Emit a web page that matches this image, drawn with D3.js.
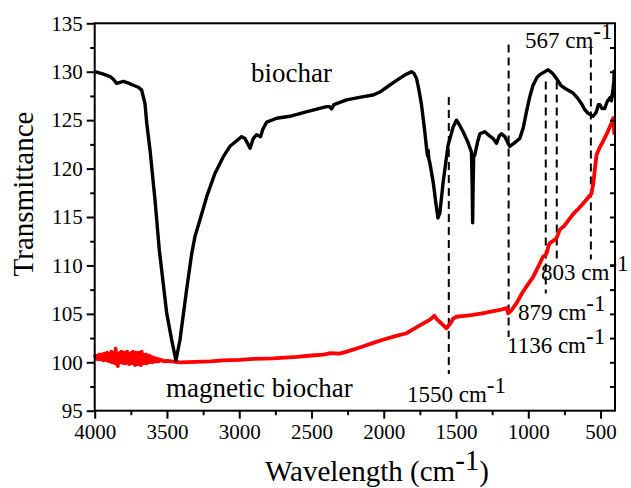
<!DOCTYPE html>
<html>
<head>
<meta charset="utf-8">
<script src="https://cdn.jsdelivr.net/npm/d3@7"></script>
<style>
  html, body { margin: 0; padding: 0; background: #fff; }
  svg { display: block; }
  text { font-family: "Liberation Serif", "Times New Roman", serif; fill: #000; }
</style>
</head>
<body>
<svg id="chart" width="631" height="488"></svg>
<script>
// ---- Data ----
const xTicks = [4000, 3500, 3000, 2500, 2000, 1500, 1000, 500];
const yTicks = [95, 100, 105, 110, 115, 120, 125, 130, 135];

// biochar (black) spectrum: wavenumber / transmittance
const biocharWn = [4000, 3950, 3893, 3870, 3848, 3825, 3802, 3770, 3733, 3698, 3675, 3652, 3640, 3617, 3583, 3553, 3502, 3470, 3438, 3410, 3364, 3329, 3306, 3272, 3225, 3168, 3111, 3064, 2983, 2960, 2925, 2903, 2880, 2852, 2838, 2810, 2741, 2649, 2550, 2450, 2396, 2375, 2361, 2345, 2257, 2150, 2073, 2027, 1970, 1911, 1850, 1808, 1790, 1773, 1755, 1739, 1716, 1704, 1697, 1693, 1688, 1680, 1658, 1640, 1625, 1612, 1589, 1555, 1520, 1497, 1480, 1451, 1420, 1393, 1388, 1385, 1382, 1378, 1370, 1350, 1335, 1301, 1270, 1243, 1220, 1200, 1185, 1162, 1140, 1128, 1100, 1059, 1035, 1012, 990, 967, 940, 920, 863, 830, 805, 775, 748, 690, 660, 632, 610, 586, 552, 530, 515, 505, 490, 471, 455, 436, 425, 413, 408, 405];
const biocharT  = [130.0, 129.8, 129.5, 129.2, 128.8, 128.9, 129.0, 128.85, 128.6, 128.4, 128.1, 126.7, 124.7, 121.9, 116.8, 111.6, 105.1, 102.5, 100.2, 102.3, 107.5, 111.2, 113.0, 114.7, 117.1, 119.5, 121.2, 122.3, 123.3, 123.1, 122.1, 123.1, 123.5, 123.3, 124.0, 124.8, 125.2, 125.4, 125.8, 126.2, 126.4, 126.4, 126.15, 126.6, 127.1, 127.4, 127.6, 127.9, 128.5, 129.1, 129.7, 130.0, 129.8, 129.3, 128.0, 126.6, 123.8, 122.1, 121.3, 121.9, 121.0, 120.5, 118.6, 116.5, 114.9, 115.4, 118.6, 122.4, 124.3, 125.0, 124.6, 123.8, 122.8, 121.7, 118.0, 114.4, 118.0, 121.2, 121.4, 122.8, 123.6, 123.8, 123.4, 123.1, 122.6, 123.4, 123.6, 123.3, 122.6, 122.3, 122.6, 123.1, 124.2, 125.9, 127.4, 128.6, 129.4, 129.7, 130.2, 129.8, 129.3, 128.6, 128.3, 127.8, 127.3, 126.7, 126.1, 125.7, 125.4, 125.8, 126.6, 126.6, 126.2, 126.2, 126.9, 127.3, 127.0, 128.3, 129.0, 130.2];

// magnetic biochar (red) spectrum
const magneticWn = [4000, 3995, 3990, 3985, 3980, 3975, 3970, 3965, 3960, 3955, 3950, 3945, 3940, 3935, 3930, 3925, 3920, 3915, 3910, 3905, 3900, 3895, 3890, 3885, 3880, 3875, 3870, 3865, 3860, 3855, 3850, 3845, 3840, 3835, 3830, 3825, 3820, 3815, 3810, 3805, 3800, 3795, 3790, 3785, 3780, 3775, 3770, 3765, 3760, 3755, 3750, 3745, 3740, 3735, 3730, 3725, 3720, 3715, 3710, 3705, 3700, 3695, 3690, 3685, 3680, 3675, 3670, 3665, 3660, 3655, 3650, 3645, 3640, 3635, 3630, 3625, 3620, 3615, 3610, 3605, 3600, 3595, 3590, 3585, 3580, 3575, 3570, 3565, 3560, 3555, 3550, 3540, 3520, 3500, 3410, 3300, 3200, 3111, 3000, 2900, 2765, 2600, 2500, 2419, 2380, 2372, 2303, 2234, 2150, 2073, 2000, 1920, 1842, 1750, 1680, 1650, 1630, 1600, 1566, 1540, 1520, 1497, 1440, 1382, 1300, 1250, 1197, 1150, 1139, 1120, 1081, 1040, 1000, 967, 930, 898, 880, 874, 860, 851, 830, 805, 782, 750, 720, 690, 650, 620, 597, 575, 563, 550, 528, 505, 483, 460, 436, 420, 413, 408, 405];
const magneticT  = [100.5, 100.7, 100.4, 100.6, 100.3, 100.7, 100.5, 100.8, 100.3, 100.6, 100.4, 100.8, 100.2, 100.9, 100.3, 100.7, 100.2, 101.0, 100.4, 100.8, 100.1, 100.9, 100.3, 101.1, 100.0, 100.8, 100.2, 101.0, 99.9, 101.4, 100.1, 100.9, 99.6, 100.8, 100.2, 101.0, 100.0, 101.1, 100.3, 100.9, 99.9, 101.0, 100.2, 100.8, 99.9, 101.1, 100.1, 100.9, 99.8, 100.7, 100.2, 101.0, 99.9, 101.1, 100.0, 100.9, 99.7, 101.0, 100.1, 100.8, 99.8, 101.0, 100.0, 100.9, 99.7, 101.1, 100.0, 100.8, 99.9, 100.7, 100.0, 100.8, 99.9, 100.6, 100.1, 100.7, 100.0, 100.6, 100.1, 100.5, 100.0, 100.5, 100.1, 100.4, 100.1, 100.4, 100.1, 100.35, 100.1, 100.3, 100.15, 100.25, 100.1, 100.15, 100.0, 100.05, 100.1, 100.2, 100.25, 100.35, 100.4, 100.55, 100.7, 100.8, 100.9, 100.95, 100.9, 101.2, 101.6, 102.0, 102.35, 102.7, 103.0, 103.8, 104.4, 104.8, 104.4, 104.0, 103.5, 104.0, 104.5, 104.7, 104.8, 104.9, 105.1, 105.25, 105.4, 105.6, 105.05, 105.3, 106.1, 107.2, 108.1, 108.8, 109.9, 110.9, 111.1, 111.2, 112.0, 112.3, 112.5, 112.8, 113.7, 114.1, 114.7, 115.3, 115.9, 116.4, 116.8, 117.2, 117.4, 118.5, 121.4, 122.2, 122.8, 123.5, 124.3, 124.8, 125.2, 124.5, 123.5];

// dashed marker lines: wavenumber, top and bottom transmittance
const markerWn     = [1550, 1136, 879, 803, 567];
const markerTop    = [127.4, 132.8, 129.0, 129.0, 132.6];
const markerBottom = [98.8, 102.6, 107.1, 110.7, 110.6];

// annotation labels
const annoText = ["567 cm", "803 cm", "879 cm", "1136 cm", "1550 cm"];
const seriesLabels = ["biochar", "magnetic biochar"];

// ---- Layout ----
const svg = d3.select("#chart");
const mLeft = 94.7, mRight = 615, mTop = 23.3, mBottom = 410.7;
const x = d3.scaleLinear().domain([4000, 400]).range([mLeft, mRight]);
const y = d3.scaleLinear().domain([95, 135]).range([mBottom, mTop]);
const FONT = "Liberation Serif, Times New Roman, serif";

// curves
const line = d3.line().x(d => x(d[0])).y(d => y(d[1]));
const bioData = biocharWn.map((w, i) => [w, biocharT[i]]);
const magData = magneticWn.map((w, i) => [w, magneticT[i]]);

// dashed lines
svg.append("g").selectAll("line").data(markerWn).join("line")
  .attr("x1", d => x(d)).attr("x2", d => x(d))
  .attr("y1", (d, i) => y(markerTop[i])).attr("y2", (d, i) => y(markerBottom[i]))
  .attr("stroke", "#000").attr("stroke-width", 2).attr("stroke-dasharray", "8,5");

svg.append("path").datum(magData).attr("d", line)
  .attr("fill", "none").attr("stroke", "#ff0000").attr("stroke-width", 3.8)
  .attr("stroke-linejoin", "round");
svg.append("path").datum(bioData).attr("d", line)
  .attr("fill", "none").attr("stroke", "#000").attr("stroke-width", 3.4)
  .attr("stroke-linejoin", "round");

// axes
const xAxis = d3.axisBottom(x).tickValues(xTicks).tickSize(8).tickPadding(5).tickFormat(d3.format("d"));
const xMinor = d3.axisBottom(x).tickValues([3750, 3250, 2750, 2250, 1750, 1250, 750]).tickSize(4.5).tickFormat("");
const yAxis = d3.axisLeft(y).tickValues(yTicks).tickSize(8).tickPadding(4).tickFormat(d3.format("d"));
const yMinor = d3.axisLeft(y).tickValues([97.5, 102.5, 107.5, 112.5, 117.5, 122.5, 127.5, 132.5]).tickSize(4.5).tickFormat("");
const yRight = d3.axisLeft(y).tickValues([97.5, 100, 102.5, 105, 107.5, 110, 112.5, 115, 117.5, 120, 122.5, 125, 127.5, 130, 132.5]).tickSize(5).tickFormat("");

function styleAxis(g) {
  g.select(".domain").remove();
  g.selectAll(".tick line").attr("stroke", "#000").attr("stroke-width", 2);
  g.selectAll(".tick text").attr("font-family", FONT).attr("font-size", 21).attr("fill", "#000");
}
svg.append("g").attr("transform", `translate(0,${mBottom})`).call(xAxis).call(styleAxis);
svg.append("g").attr("transform", `translate(0,${mBottom})`).call(xMinor).call(styleAxis);
svg.append("g").attr("transform", `translate(${mLeft},0)`).call(yAxis).call(styleAxis);
svg.append("g").attr("transform", `translate(${mLeft},0)`).call(yMinor).call(styleAxis);
svg.append("g").attr("transform", `translate(${mRight},0)`).call(yRight).call(g => {
  g.select(".domain").remove();
  g.selectAll(".tick line").attr("stroke", "#000").attr("stroke-width", 2).attr("x2", -5);
});

// frame
svg.append("rect").attr("x", mLeft).attr("y", mTop).attr("width", mRight - mLeft).attr("height", mBottom - mTop)
  .attr("fill", "none").attr("stroke", "#000").attr("stroke-width", 2);

// series labels
svg.append("text").attr("x", 251).attr("y", 82).attr("font-size", 27).text(seriesLabels[0]);
svg.append("text").attr("x", 166).attr("y", 397).attr("font-size", 27).text(seriesLabels[1]);

// annotations with superscript
const annoX = [525, 541, 518, 507, 407];
const annoY = [48, 280, 320, 353, 402];
annoText.forEach((t, i) => {
  const tx = svg.append("text").attr("x", annoX[i]).attr("y", annoY[i]).attr("font-size", 23);
  tx.append("tspan").text(t);
  tx.append("tspan").attr("dy", -9).text("-1");
});

// axis titles
const xt = svg.append("text").attr("x", 265).attr("y", 481).attr("font-size", 29);
xt.append("tspan").text("Wavelength (cm");
xt.append("tspan").attr("dy", -11).text("-1");
xt.append("tspan").attr("dy", 11).text(")");

svg.append("text").attr("transform", "translate(33,194) rotate(-90)")
  .attr("text-anchor", "middle").attr("font-size", 29).text("Transmittance");
</script>
</body>
</html>
